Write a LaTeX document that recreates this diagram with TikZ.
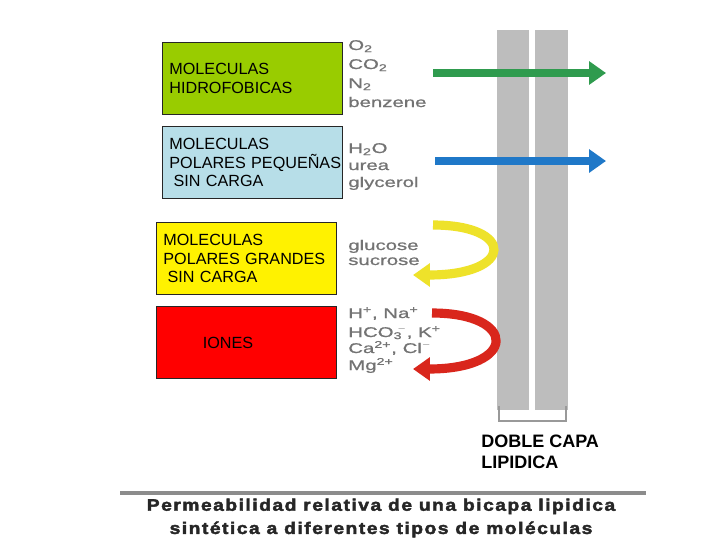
\documentclass[tikz,border=0pt]{standalone}
\usepackage{fontspec}
\setmainfont{Liberation Sans}
\newfontfamily\lblfont[FakeStretch=1.45,FakeBold=0.8]{Liberation Sans}
\newfontfamily\capfont[FakeStretch=1.15,LetterSpace=9,FakeBold=2.5]{Liberation Sans}
\usetikzlibrary{arrows.meta}
\definecolor{hidrogreen}{HTML}{99CC00}
\definecolor{polarblue}{HTML}{B7DEE8}
\definecolor{arrowgreen}{HTML}{2F9B4E}
\definecolor{arrowblue}{HTML}{1F78C8}
\definecolor{arrowyellow}{HTML}{EEE22A}
\definecolor{arrowred}{HTML}{D9261C}
\definecolor{lipidgray}{HTML}{BDBDBD}

\begin{document}
\begin{tikzpicture}[x=0.025cm,y=-0.025cm,
  classbox/.style={draw=black!85,line width=0.6pt,anchor=north west,minimum width=4.5cm,minimum height=1.8cm,
                   text width=4.15cm,align=left,inner xsep=0.175cm,font=\fontsize{11.5}{13.5}\selectfont},
  lbl/.style={anchor=base west,inner sep=0pt,text=black!55,font=\lblfont\fontsize{10}{12}\selectfont},
  flow/.style={line width=5.7pt,-{Triangle[length=12pt,width=16pt]}},
  curveflow/.style={flow,line width=6.5pt}]
 \fill[white] (0,0) rectangle (720,540);
 \useasboundingbox (0,0) rectangle (720,540);

 % bicapa
 \fill[lipidgray] (497,30) rectangle (529,410);
 \fill[lipidgray] (535,30) rectangle (568,410);
 \draw[black!40,line width=1pt] (499,406) -- (499,421) -- (566,421) -- (566,406);

 % clases de moleculas
 \node [classbox,fill=hidrogreen] (hidro) at (162,42) {MOLECULAS\\HIDROFOBICAS};
 \node [classbox,fill=polarblue] (peq) at (162,126) {MOLECULAS\\\mbox{POLARES PEQUEÑAS}\\\hspace{3pt}SIN CARGA};
 \node [classbox,fill=yellow] (gran) at (156,222) {MOLECULAS\\\mbox{POLARES GRANDES}\\\hspace{3pt}SIN CARGA};
 \node [classbox,fill=red] (iones) at (156,306) {\hspace{28pt}IONES};

 \foreach \n/\t/\y in {o2/{O\textsubscript{2}}/50, co2/{CO\textsubscript{2}}/69, n2/{N\textsubscript{2}}/88, benz/benzene/107,
                       h2o/{H\textsubscript{2}O}/153, urea/urea/170, glyc/glycerol/187,
                       gluc/glucose/250, sucr/sucrose/265,
                       hna/{H\textsuperscript{+}, Na\textsuperscript{+}}/318, hco/{HCO\textsubscript{3}\kern-0.35em\textsuperscript{$-$}, K\textsuperscript{+}}/337,
                       cacl/{Ca\textsuperscript{2+}, Cl\textsuperscript{$-$}}/353, mg/{Mg\textsuperscript{2+}}/370}
   \node [lbl] (\n) at (348,\y) {\t};

 \coordinate (gs) at (433,73);  \coordinate (ge) at (606,73);
 \coordinate (bs) at (435,161); \coordinate (be) at (606,161);
 \coordinate (ys) at (433,225); \coordinate (ye) at (413,275);
 \coordinate (rs) at (432,313); \coordinate (re) at (413,369);

 \draw [flow,arrowgreen] (gs) -- (ge);
 \draw [flow,arrowblue] (bs) -- (be);
 \draw [curveflow,arrowyellow] (ys) .. controls (515,225) and (515,275) .. (ye);
 \draw [curveflow,arrowred] (rs) .. controls (518,313) and (518,369) .. (re);

 \node [anchor=north west,align=left,inner sep=0pt,font=\bfseries\fontsize{12.8}{15}\selectfont] (bicapa) at (481,435) {DOBLE CAPA\\LIPIDICA};

 \draw [black!45,line width=2.2pt] (120,493) -- (646,493);
 \node [align=center,inner sep=0pt,text=black!85,font=\capfont\bfseries\fontsize{11.9}{16.5}\selectfont] (pie) at (381,518)
   {Permeabilidad relativa de una bicapa lipidica\\sintética a diferentes tipos de moléculas};
\end{tikzpicture}
\end{document}
